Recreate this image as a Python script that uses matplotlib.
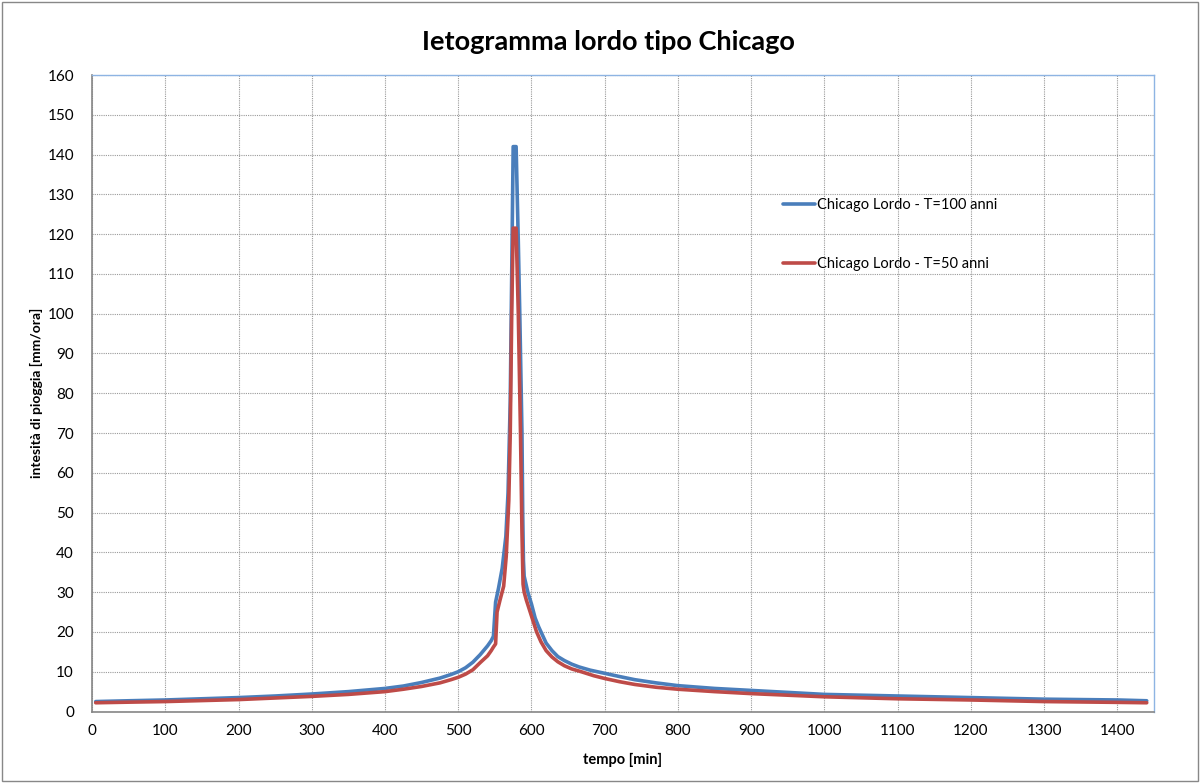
"""
Ietogramma lordo tipo Chicago (T=100 e T=50 anni).

Output:
    out.png
"""
import matplotlib
matplotlib.use("Agg")
import matplotlib.pyplot as plt
from matplotlib.patches import Rectangle

# valori: tempo [min], intensita [mm/ora]
T100_TIME = [5, 50, 100, 150, 200, 250, 300, 350, 400, 425, 450, 475, 490, 500,
             510, 520, 530, 540, 545, 548, 551, 555, 560, 565, 568, 571, 573,
             575, 579, 582, 584, 587, 588, 589, 590, 595, 600, 605, 610, 615,
             620, 628, 636, 645, 655, 665, 680, 700, 720, 741, 770, 800, 850,
             900, 950, 1000, 1100, 1200, 1300, 1400, 1440]
T100_INT = [2.5, 2.7, 2.9, 3.2, 3.5, 3.9, 4.4, 5.0, 5.8, 6.4, 7.3, 8.4, 9.3, 10.0,
            11.0, 12.4, 14.3, 16.5, 17.8, 18.9, 27.5, 31.0, 36.0, 44.0, 55.0, 78.0, 110.0,
            142.0, 142.0, 118.0, 100.0, 70.0, 50.0, 38.0, 34.0, 30.0, 27.0, 23.5, 21.2, 19.2,
            17.2, 15.3, 13.8, 12.8, 11.9, 11.2, 10.4, 9.6, 8.8, 8.0, 7.2, 6.5, 5.8,
            5.3, 4.8, 4.3, 3.9, 3.5, 3.1, 2.9, 2.7]

T50_TIME = [5, 50, 100, 150, 200, 250, 300, 350, 400, 425, 450, 475, 490, 500,
            510, 520, 530, 540, 545, 548, 551, 553, 557, 562, 565.5, 569, 571,
            573, 575, 579, 582, 585, 587, 588.5, 590, 593, 600, 607, 613, 620,
            628, 636, 645, 655, 668, 685, 700, 720, 741, 770, 800, 850, 900,
            950, 1000, 1100, 1200, 1300, 1400, 1440]
T50_INT = [2.2, 2.35, 2.5, 2.75, 3.0, 3.4, 3.8, 4.3, 5.0, 5.6, 6.3, 7.2, 8.0, 8.6,
           9.4, 10.5, 12.3, 14.0, 15.3, 16.2, 17.0, 25.0, 28.0, 31.5, 39.0, 53.0, 70.0,
           100.0, 121.5, 121.5, 100.0, 70.0, 45.0, 32.0, 30.0, 28.0, 24.0, 20.0, 17.5, 15.3,
           13.7, 12.5, 11.5, 10.7, 10.0, 9.0, 8.3, 7.5, 6.8, 6.1, 5.6, 5.0, 4.5,
           4.1, 3.7, 3.2, 2.9, 2.5, 2.3, 2.2]

LABELS = ["Chicago Lordo - T=100 anni", "Chicago Lordo - T=50 anni"]
COLORS = ["#4A7EBB", "#BE4B48"]

FONT = ["Lato", "DejaVu Sans"]


def main():
    plt.rcParams["font.family"] = FONT

    fig = plt.figure(figsize=(12, 7.83), dpi=100)
    ax = fig.add_axes([0.0767, 0.0913, 0.885, 0.8129])

    ax.plot(T100_TIME, T100_INT, color=COLORS[0], lw=2.6, label=LABELS[0],
            solid_joinstyle="round", solid_capstyle="round", zorder=3)
    ax.plot(T50_TIME, T50_INT, color=COLORS[1], lw=2.6, label=LABELS[1],
            solid_joinstyle="round", solid_capstyle="round", zorder=4)

    ax.set_xlim(0, 1450)
    ax.set_ylim(0, 160)
    ax.set_xticks(range(0, 1401, 100))
    ax.set_yticks(range(0, 161, 10))
    ax.tick_params(length=0, labelsize=11, colors="black")
    ax.tick_params(axis="x", pad=9)
    ax.tick_params(axis="y", pad=13)

    ax.grid(True, color="#9a9a9a", linestyle=(0, (1, 1)), lw=0.8)
    ax.set_axisbelow(True)
    for side in ("left", "bottom"):
        ax.spines[side].set_color("#868686")
        ax.spines[side].set_linewidth(1.2)
    for side in ("top", "right"):
        ax.spines[side].set_color("#8EB4E3")
        ax.spines[side].set_linewidth(1.0)

    ax.set_xlabel("tempo [min]", fontsize=10.5, fontweight="bold", labelpad=11)
    ax.set_ylabel("intesità di pioggia [mm/ora]", fontsize=10, fontweight="bold",
                  labelpad=3)

    fig.text(0.507, 0.946, "Ietogramma lordo tipo Chicago", ha="center",
             va="center", fontsize=19.5, fontweight="bold")

    ax.legend(loc="upper left", bbox_to_anchor=(0.645, 0.816), frameon=False,
              fontsize=10.5, handlelength=2.2, handletextpad=0.15,
              labelspacing=3.1, borderaxespad=0)

    # bordo dell'area del grafico
    fig.patches.append(Rectangle((0.002, 0.003), 0.996, 0.994,
                                 transform=fig.transFigure, fill=False,
                                 edgecolor="#888888", lw=1.0))

    fig.savefig("out.png", dpi=100)


if __name__ == "__main__":
    main()
